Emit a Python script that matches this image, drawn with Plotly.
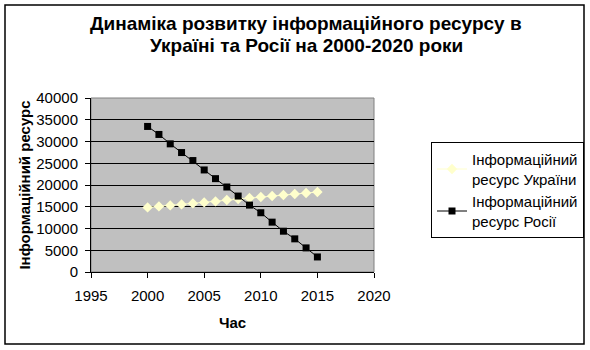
import plotly.graph_objects as go

years = list(range(2000, 2016))
ukraine = [14850, 15080, 15310, 15540, 15770, 16000, 16230, 16540, 16770, 17000, 17230, 17460, 17690, 17920, 18150, 18380]
russia = [33460, 31620, 29460, 27460, 25620, 23460, 21460, 19540, 17460, 15380, 13620, 11460, 9380, 7620, 5540, 3460]
x_ticks = [1995, 2000, 2005, 2010, 2015, 2020]
y_ticks = [0, 5000, 10000, 15000, 20000, 25000, 30000, 35000, 40000]
title_lines = ["Динаміка розвитку інформаційного ресурсу в", "Україні та Росії на 2000-2020 роки"]

FONT = "Liberation Sans, Arial, sans-serif"

fig = go.Figure()
fig.add_trace(go.Scatter(
    x=years, y=ukraine, mode="lines+markers",
    name="Інформаційний<br>ресурс України",
    line=dict(color="#FFFFCC", width=1),
    marker=dict(symbol="diamond", size=8, color="#FFFFCC"),
))
fig.add_trace(go.Scatter(
    x=years, y=russia, mode="lines+markers",
    name="Інформаційний<br>ресурс Росії",
    line=dict(color="#000000", width=1),
    marker=dict(symbol="square", size=7, color="#000000"),
))

L, R, T, B = 91, 216, 98, 78
pw = 590 - L - R
ph = 350 - T - B

def px_x(x):
    return (x - L) / pw

def px_y(y):
    return (350 - B - y) / ph

fig.update_layout(
    width=590, height=350,
    margin=dict(l=L, r=R, t=T, b=B, autoexpand=False),
    paper_bgcolor="white", plot_bgcolor="#C0C0C0",
    font=dict(family=FONT, size=15, color="black"),
    xaxis=dict(
        range=[1995, 2020], tickvals=x_ticks, showgrid=False, zeroline=False,
        showline=True, linecolor="black", linewidth=1,
        ticks="outside", ticklen=5, tickcolor="black",
        tickfont=dict(size=15), ticklabelstandoff=5,
        title=dict(text="<b>Час</b>", font=dict(size=15), standoff=14),
    ),
    yaxis=dict(
        range=[0, 40000], tickvals=y_ticks, tickformat="d",
        showgrid=True, gridcolor="black", gridwidth=1,
        zeroline=False, showline=True, linecolor="black", linewidth=1,
        ticks="outside", ticklen=5, tickcolor="black",
        tickfont=dict(size=15), ticklabelstandoff=4,
        title=dict(text="<b>Інформаційний ресурс</b>", font=dict(size=15), standoff=2),
    ),
    legend=dict(
        x=px_x(431), y=px_y(142), xanchor="left", yanchor="top",
        xref="paper", yref="paper",
        bgcolor="white", bordercolor="black", borderwidth=1,
        font=dict(size=15), tracegroupgap=0, itemwidth=30,
    ),
    showlegend=True,
)

for line, yc in zip(title_lines, [23.5, 45.5]):
    fig.add_annotation(
        text="<b>" + line + "</b>",
        xref="paper", yref="paper", x=px_x(306), y=px_y(yc),
        xanchor="center", yanchor="middle", showarrow=False,
        font=dict(family=FONT, size=19, color="black"),
    )

# plot area frame (gray top/right) and outer chart border
fig.add_shape(type="rect", xref="paper", yref="paper", x0=0, x1=1, y0=0, y1=1,
              line=dict(color="#808080", width=1), layer="below")
fig.add_shape(type="rect", xref="paper", yref="paper",
              x0=px_x(5), x1=px_x(584), y0=px_y(344), y1=px_y(5),
              line=dict(color="black", width=1.5))

fig.write_html("out.html")
